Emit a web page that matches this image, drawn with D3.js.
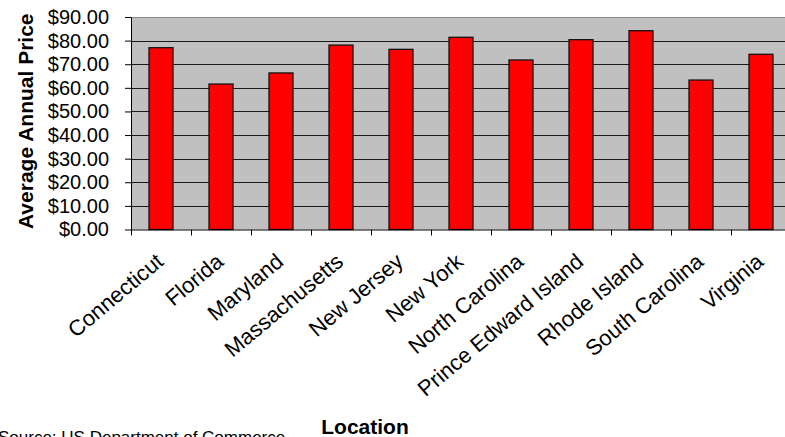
<!DOCTYPE html>
<html>
<head>
<meta charset="utf-8">
<script src="https://cdn.jsdelivr.net/npm/d3@7"></script>
<style>
  html, body { margin: 0; padding: 0; background: #fff; overflow: hidden; }
  svg { display: block; }
  svg text { font-family: Arial, "Liberation Sans", sans-serif; }
</style>
</head>
<body>
<svg id="chart" width="785" height="437"></svg>
<script>
const categories = ["Connecticut", "Florida", "Maryland", "Massachusetts", "New Jersey", "New York",
  "North Carolina", "Prince Edward Island", "Rhode Island", "South Carolina", "Virginia"];
const values = [77.0, 61.6, 66.3, 78.1, 76.3, 81.4, 71.8, 80.4, 84.2, 63.3, 74.2];
const yTicks = [0, 10, 20, 30, 40, 50, 60, 70, 80, 90];
const yTitle = "Average Annual Price";
const xTitle = "Location";
const sourceNote = "Source: US Department of Commerce";

const FONT = 'Arial, "Liberation Sans", sans-serif';
const svg = d3.select("#chart");
const plot = { left: 131, right: 791, top: 17, bottom: 229.5 };

const x = d3.scaleBand().domain(categories).range([plot.left, plot.right]).paddingInner(0.6).paddingOuter(0.3);
const xTick = d3.scaleBand().domain(categories).range([plot.left, plot.right]);
const y = d3.scaleLinear().domain([0, 90]).range([plot.bottom, plot.top]);

// plot background
svg.append("rect")
  .attr("x", plot.left).attr("y", plot.top)
  .attr("width", plot.right - plot.left).attr("height", plot.bottom - plot.top)
  .attr("fill", "#c0c0c0");
svg.append("line")
  .attr("x1", plot.left).attr("x2", plot.right)
  .attr("y1", plot.top + 0.5).attr("y2", plot.top + 0.5)
  .attr("stroke", "#8a8a8a").attr("stroke-width", 1);

// gridlines
svg.append("g")
  .selectAll("line").data(yTicks.filter(d => d > 0 && d < 90)).join("line")
  .attr("x1", plot.left).attr("x2", plot.right)
  .attr("y1", d => Math.round(y(d)) + 0.5).attr("y2", d => Math.round(y(d)) + 0.5)
  .attr("stroke", "#1a1a1a").attr("stroke-width", 1);

// bars
svg.append("g")
  .selectAll("rect").data(values).join("rect")
  .attr("x", (d, i) => x(categories[i]))
  .attr("y", d => y(d))
  .attr("width", x.bandwidth())
  .attr("height", d => plot.bottom - y(d))
  .attr("fill", "#ff0000")
  .attr("stroke", "#111")
  .attr("stroke-width", 1.3);

// y axis
const yAxis = d3.axisLeft(y).tickValues(yTicks).tickSize(6).tickSizeOuter(0)
  .tickFormat(d => "$" + d3.format(".2f")(d));
const gy = svg.append("g").attr("transform", `translate(${plot.left},0)`).call(yAxis)
  .attr("font-family", FONT).attr("font-size", 20);
gy.select(".domain").attr("stroke", "#000");
gy.selectAll(".tick line").attr("stroke", "#000");
gy.selectAll(".tick text")
  .attr("x", -22).attr("fill", "#000")
  .style("font-family", FONT)
  .style("font-size", "20px");

// x axis
const xAxis = d3.axisBottom(xTick).tickSize(0).tickSizeOuter(0).tickFormat("");
const gx = svg.append("g").attr("transform", `translate(0,${plot.bottom})`).call(xAxis);
gx.select(".domain").attr("stroke", "#000").attr("stroke-width", 1.2);
gx.selectAll(".tick").remove();
// tick marks between categories
svg.append("g")
  .selectAll("line").data(categories).join("line")
  .attr("x1", d => Math.round(xTick(d)) + 0.5).attr("x2", d => Math.round(xTick(d)) + 0.5)
  .attr("y1", plot.bottom).attr("y2", plot.bottom + 6)
  .attr("stroke", "#000");

// category labels
svg.append("g")
  .selectAll("text").data(categories).join("text")
  .attr("transform", d => `translate(${xTick(d) + xTick.bandwidth() / 2 + 3.8},${plot.bottom + 34.3}) rotate(-40)`)
  .attr("text-anchor", "end")
  .style("font-family", FONT)
  .style("font-size", "22px")
  .attr("fill", "#000")
  .text(d => d);

// axis titles
svg.append("text")
  .attr("transform", `translate(33,${(plot.top + plot.bottom) / 2 - 2}) rotate(-90)`)
  .attr("text-anchor", "middle")
  .style("font-family", FONT)
  .style("font-size", "21px").style("font-weight", "bold")
  .text(yTitle);

svg.append("text")
  .attr("x", 365).attr("y", 434)
  .attr("text-anchor", "middle")
  .style("font-family", FONT)
  .style("font-size", "21px").style("font-weight", "bold")
  .text(xTitle);

svg.append("text")
  .attr("x", -2).attr("y", 443)
  .style("font-family", FONT)
  .style("font-size", "17px")
  .text(sourceNote);
</script>
</body>
</html>
